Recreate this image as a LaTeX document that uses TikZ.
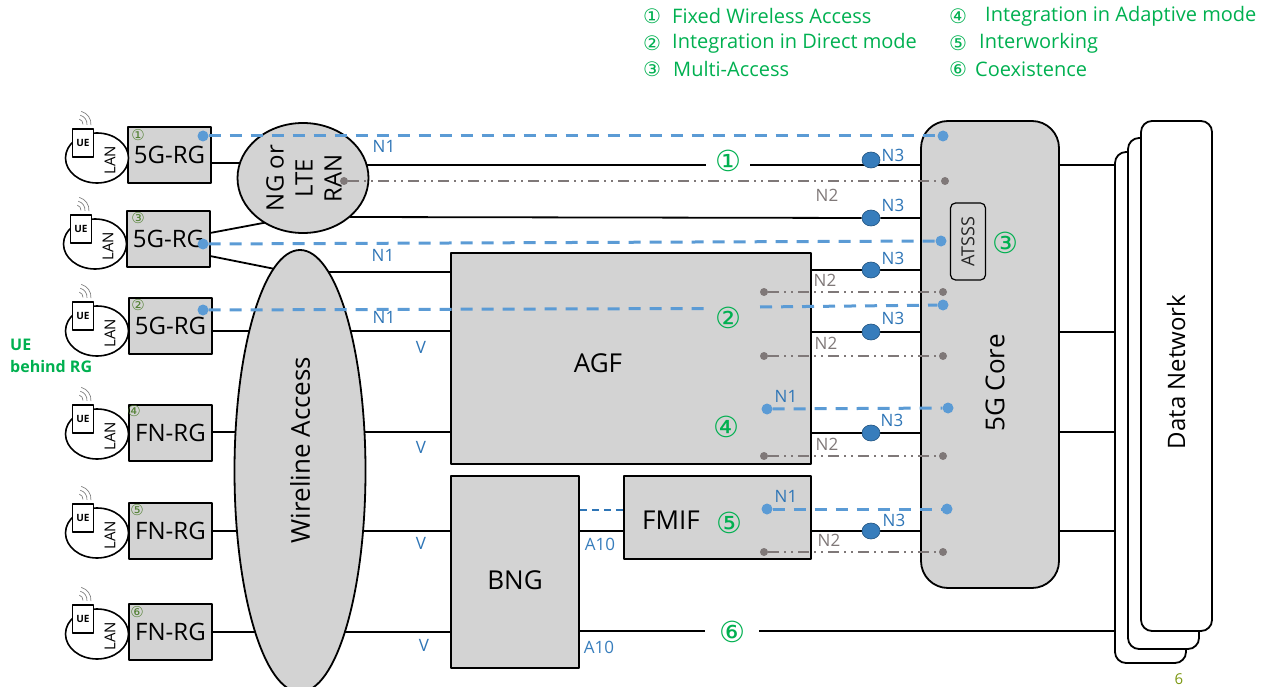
\documentclass[tikz,border=0pt]{standalone}
\usepackage{fontspec}
\setmainfont{Open Sans}
\newfontfamily\circfont{DejaVu Sans}
\usetikzlibrary{backgrounds,shapes.geometric}
\definecolor{boxgray}{RGB}{211,211,211}
\definecolor{legendgreen}{RGB}{0,176,80}
\definecolor{tagolive}{RGB}{84,130,53}
\definecolor{nblue}{RGB}{46,117,182}
\definecolor{dashblue}{RGB}{91,155,213}
\definecolor{ngray}{RGB}{127,120,120}
\newcommand{\fsz}[1]{\fontsize{#1}{#1}\selectfont}
\tikzset{
  netbox/.style={draw,line width=1.8pt,fill=boxgray,inner sep=0pt,text=black},
  netell/.style={netbox,ellipse},
  wire/.style={line width=1.8pt},
  uplane/.style={line width=3pt,dashblue,dash pattern=on 12pt off 9pt},
  cplane/.style={line width=2pt,ngray,dash pattern=on 11pt off 5pt on 2pt off 5pt on 2pt off 5pt},
  bluedot/.style={circle,fill=dashblue,inner sep=0pt,minimum size=11pt},
  graydot/.style={circle,fill=ngray,inner sep=0pt,minimum size=8pt},
  nthree/.style={ellipse,draw=nblue!70!black,line width=0.6pt,fill=nblue!80!dashblue,inner sep=0pt,minimum width=18pt,minimum height=16pt},
  bluelab/.style={text=nblue,font=\fsz{17}},
  graylab/.style={text=ngray,font=\fsz{17}},
  legend/.style={text=legendgreen,font=\fsz{20},anchor=west,inner sep=0pt},
  bignum/.style={text=legendgreen,font=\circfont\fsz{29},inner sep=0pt},
  tagnum/.style={text=tagolive,font=\circfont\fsz{15},inner sep=0pt},
}
\begin{document}
\begin{tikzpicture}[x=1pt,y=-1pt,line join=round]
 \useasboundingbox (0,0) rectangle (1273,687);
 % legend
 \foreach \nm/\x/\y/\txt in {a/652/16/\circfont ①, b/652/43/\circfont ②, c/652/69/\circfont ③, d/958/16/\circfont ④, e/958/43/\circfont ⑤, f/958/69/\circfont ⑥}
 \node[legend,anchor=center] (leg\nm) at (\x,\y) {\txt};
 \node[legend] (txta) at (672,16) {Fixed Wireless Access};
 \node[legend] (txtb) at (672,43) {Integration in Direct mode};
 \node[legend] (txtc) at (673,69) {Multi-Access};
 \node[legend] (txtd) at (985,16) {Integration in Adaptive mode};
 \node[legend] (txte) at (979,43) {Interworking};
 \node[legend] (txtf) at (975,69) {Coexistence};
 \node[text=legendgreen,font=\bfseries\fsz{16},align=left,anchor=west,inner sep=0pt] (behind) at (10,356) {UE\\[6pt]behind RG};
 % data network stack
 \foreach \nm/\xa/\ya/\xb/\yb in {dnc/1115/152/1186/663, dnb/1128/138/1199/649, dna/1141/121/1212/631}
 \draw[line width=1.8pt,fill=white,rounded corners=11pt] (\xa,\ya) rectangle (\xb,\yb) node[midway,inner sep=0pt] (\nm) {};
 \coordinate (dnedge) at (1128,400);
 \node[rotate=90,font=\fsz{24},inner sep=0pt] (dnlab) at (1176,372) {Data Network};
 % access side
 \foreach \nm/\x/\y/\lab in {rga/169.5/155/5G-RG, rgb/168.5/239/5G-RG, rgc/170.5/326/5G-RG, fna/170.5/433/FN-RG, fnb/170.5/531/FN-RG, fnc/170.5/632/FN-RG}
 \node[netbox,minimum width=83pt,minimum height=56pt,font=\fsz{24}] (\nm) at (\x,\y) {\lab};
 \foreach \nm/\x/\y/\tg in {a/138/135/①, b/138/218/③, c/138/305/②, d/134/411/④, e/137/510/⑤, f/137/612/⑥}
 \node[tagnum] (tag\nm) at (\x,\y) {\tg};
 \foreach \nm/\x/\y in {a/97/158, b/95/244, c/97/331, d/97/434, e/97/533, f/97/634} {
 \foreach \r in {5,9,13}
 \draw[line width=0.7pt,gray] (\x-19,\y-34) ++(-5:\r pt) arc[start angle=-5,end angle=75,radius=\r pt];
 \node[draw,ellipse,line width=1.6pt,fill=white,minimum width=63pt,minimum height=50pt] (ue\nm) at (\x,\y) {};
 \node[draw,line width=1.6pt,fill=white,minimum width=21pt,minimum height=28pt,inner sep=0pt,font=\bfseries\fsz{10}] (uebox\nm) at (\x-14,\y-15) {UE};
 \node[rotate=90,font=\fsz{15},inner sep=0pt] (lan\nm) at (\x+13,\y+2) {LAN};
 }
 \node[netell,minimum width=131pt,minimum height=110pt] (ran) at (303,178) {};
 \node[rotate=90,font=\fsz{24},align=center,inner sep=0pt] (ranlab) at (304,178) {NG or\\[5pt]LTE\\[5pt]RAN};
 \node[netell,minimum width=131pt,minimum height=442pt] (wla) at (300,471) {};
 \node[rotate=90,font=\fsz{26},inner sep=0pt] (wlalab) at (300,450) {Wireline Access};
 % middle boxes
 \node[netbox,minimum width=360pt,minimum height=211pt] (agf) at (631,358.5) {};
 \node[font=\fsz{26},inner sep=0pt] (agflab) at (598,363) {AGF};
 \node[netbox,minimum width=128pt,minimum height=192pt] (bng) at (515,572) {};
 \node[font=\fsz{26},inner sep=0pt] (bnglab) at (515,580) {BNG};
 \node[netbox,minimum width=187pt,minimum height=83pt] (fmif) at (717.5,517.5) {};
 \node[font=\fsz{26},inner sep=0pt] (fmiflab) at (671,520) {FMIF};
 \node[netbox,rounded corners=27pt,minimum width=138pt,minimum height=467pt] (core) at (990,354.5) {};
 \node[rotate=90,font=\fsz{26},inner sep=0pt] (corelab) at (995,383) {5G Core};
 \node[draw,line width=1.2pt,rounded corners=5pt,minimum width=77pt,minimum height=35pt,inner sep=0pt,rotate=90,font=\fsz{18},text=black!85] (atsss) at (968,241.5) {ATSSS};
 % N3 points
 \foreach \nm/\y in {a/160, b/218, c/270, d/332, e/433, f/531}
 \node[nthree] (nt\nm) at (871,\y) {};
 \coordinate (ranup) at (303,215.5);
 \coordinate (ranlow) at (350,217);
 \coordinate (wlaup) at (300,274);
 \coordinate (rgbup) at (210,233);
 \coordinate (rgblow) at (210,256);
 \begin{pgfonlayer}{background}
 \draw[wire] (rga.east) ++(0,8) -- (ran.center |- 0,163);
 \draw[wire] (rgbup) -- (ranup);
 \draw[wire] (rgblow) -- (wlaup);
 \draw[wire] (ran.center |- 0,165) -- (core.west |- 0,165);
 \draw[wire] (ranlow) -- (ntb) -- (core.west |- ntb);
 \draw[wire] (wla.center |- 0,272) -- (agf.west |- 0,272);
 \draw[wire] (rgc.east |- 0,331) -- (wla.center |- 0,331) -- (agf.west |- 0,331);
 \draw[wire] (fna.east |- 0,432) -- (agf.west |- 0,432);
 \draw[wire] (fnb.east |- 0,531) -- (bng.west |- 0,531);
 \draw[wire] (fnc.east |- 0,632) -- (bng.west |- 0,632);
 \draw[wire] (bng.east |- 0,531) -- (fmif.west |- 0,531);
 \draw[wire] (bng.east |- 0,631) -- (dnedge |- 0,631);
 \draw[wire] (agf.east |- ntc) -- (ntc) -- (core.west |- ntc);
 \draw[wire] (agf.east |- ntd) -- (ntd) -- (core.west |- ntd);
 \draw[wire] (agf.east |- nte) -- (nte) -- (core.west |- nte);
 \draw[wire] (fmif.east |- ntf) -- (ntf) -- (core.west |- ntf);
 \foreach \y in {165,332,432,531}
 \draw[line width=1.6pt] (core.east |- 0,\y) -- (dnedge |- 0,\y);
 \end{pgfonlayer}
 % control plane
 \foreach \nm/\xa/\xb/\y in {a/344/945/181, b/764/943/292, c/764/943/356, d/764/943/456, e/764/943/552} {
 \node[graydot] (gl\nm) at (\xa,\y) {};
 \node[graydot] (gr\nm) at (\xb,\y) {};
 \draw[cplane] (gl\nm) -- (gr\nm);
 }
 % user plane
 \foreach \nm/\xa/\ya/\xb/\yb in {a/203/136/943/136, b/203/244/941/241, d/767/409/948/408, e/767/509/947/509} {
 \node[bluedot] (bl\nm) at (\xa,\ya) {};
 \node[bluedot] (br\nm) at (\xb,\yb) {};
 \draw[uplane] (bl\nm) -- (br\nm);
 }
 \node[bluedot] (blc) at (203,310) {};
 \node[bluedot] (brc) at (943,305) {};
 \coordinate (gapl) at (710,308.5);
 \coordinate (gapr) at (760,307);
 \draw[uplane] (blc) -- (gapl);
 \draw[uplane] (gapr) -- (brc);
 \draw[line width=1.6pt,nblue,dash pattern=on 7pt off 5pt] (bng.east |- 0,510) -- (fmif.west |- 0,510);
 % labels
 \foreach \x/\y in {384/146, 383/255, 384/317, 786/396, 786/496}
 \node[bluelab] at (\x,\y) {N1};
 \foreach \x/\y in {893/155, 893/205, 893/258, 893/318, 892/420, 894/520}
 \node[bluelab] at (\x,\y) {N3};
 \foreach \x/\y in {827/195, 825/280, 826/343, 827/444, 829/540}
 \node[graylab] at (\x,\y) {N2};
 \foreach \x/\y in {421/347, 421/447, 421/543, 424/645}
 \node[bluelab] at (\x,\y) {V};
 \foreach \x/\y in {600/544, 599/647}
 \node[bluelab,text=nblue!80!dashblue] at (\x,\y) {A10};
 \node[bignum,fill=white,minimum width=44pt,minimum height=32pt] (numa) at (728,161) {①};
 \node[bignum] (numb) at (728,318) {②};
 \node[bignum] (numc) at (1005,243) {③};
 \node[bignum] (numd) at (726,427) {④};
 \node[bignum] (nume) at (729,523) {⑤};
 \node[bignum,fill=white,minimum width=54pt,minimum height=44pt] (numf) at (732,632) {⑥};
 \node[text=olive!70!green,font=\fsz{15},inner sep=0pt] (page) at (1179,679) {6};
\end{tikzpicture}
\end{document}
